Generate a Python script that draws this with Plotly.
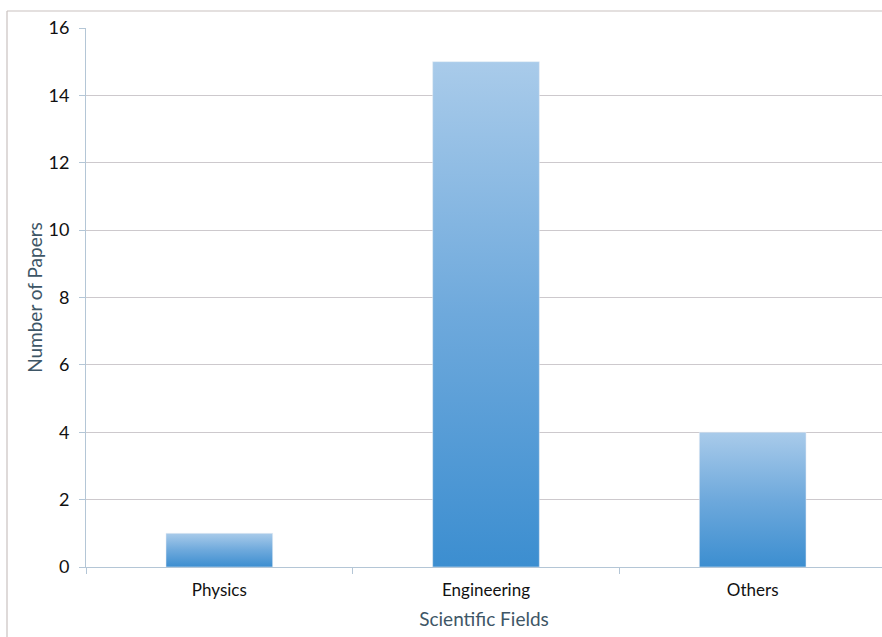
import plotly.graph_objects as go

# Paper counts per scientific field
fields = ["Physics", "Engineering", "Others"]
papers = [1, 15, 4]
y_ticks = [0, 2, 4, 6, 8, 10, 12, 14, 16]

W, H = 882, 637
ML, MR, MT, MB = 86, 0, 28, 70
bar_half = 0.2

fig = go.Figure()

# Bars drawn as filled shapes so each one gets a vertical gradient
for i, (name, val) in enumerate(zip(fields, papers)):
    fig.add_trace(go.Scatter(
        x=[i - bar_half, i + bar_half, i + bar_half, i - bar_half, i - bar_half],
        y=[0, 0, val, val, 0],
        mode="lines",
        line=dict(width=0.6, color="rgba(230,236,244,0.9)"),
        fill="toself",
        fillgradient=dict(
            type="vertical",
            colorscale=[[0, "#3c8ed0"], [0.5, "#6ea9dc"], [1, "#a9cbea"]],
        ),
        hoverinfo="skip",
        showlegend=False,
    ))

font_family = "Lato, 'Open Sans', sans-serif"

fig.update_layout(
    width=W, height=H,
    margin=dict(l=ML, r=MR, t=MT, b=MB),
    paper_bgcolor="white",
    plot_bgcolor="white",
    font=dict(family=font_family, color="#111111"),
    xaxis=dict(
        range=[-0.5, 2.485],
        tickvals=list(range(len(fields))),
        ticktext=fields,
        ticks="",
        ticklabelstandoff=8,
        tickfont=dict(size=17, color="#111111"),
        showgrid=False,
        zeroline=False,
        showline=True,
        linecolor="#b4c6d6",
        linewidth=1,
        minor=dict(ticks="outside", tick0=-0.5, dtick=1, ticklen=6,
                   tickcolor="#b4c6d6", showgrid=False),
        title=dict(text="Scientific Fields", font=dict(size=19, color="#3e5666"),
                   standoff=13),
    ),
    yaxis=dict(
        range=[0, 16],
        tickvals=y_ticks,
        ticks="outside",
        ticklen=6,
        tickcolor="#b4c6d6",
        ticklabelstandoff=6,
        tickfont=dict(size=18, color="#111111"),
        showgrid=True,
        gridcolor="#cdc9cd",
        gridwidth=1,
        zeroline=False,
        showline=True,
        linecolor="#b4c6d6",
        linewidth=1,
        title=dict(text="Number of Papers", font=dict(size=19, color="#3e5666"),
                   standoff=0),
    ),
    shapes=[
        # outer chart frame
        dict(type="line", xref="paper", yref="paper",
             x0=-(ML - 7) / (W - ML - MR), x1=1.01,
             y0=1 + (MT - 11) / (H - MT - MB), y1=1 + (MT - 11) / (H - MT - MB),
             line=dict(color="#c9c1c0", width=1.2)),
        dict(type="line", xref="paper", yref="paper",
             x0=-(ML - 7) / (W - ML - MR), x1=-(ML - 7) / (W - ML - MR),
             y0=1 + (MT - 11) / (H - MT - MB), y1=-(MB + 5) / (H - MT - MB),
             line=dict(color="#c9c1c0", width=1.2)),
    ],
)

fig.write_html("out.html")
